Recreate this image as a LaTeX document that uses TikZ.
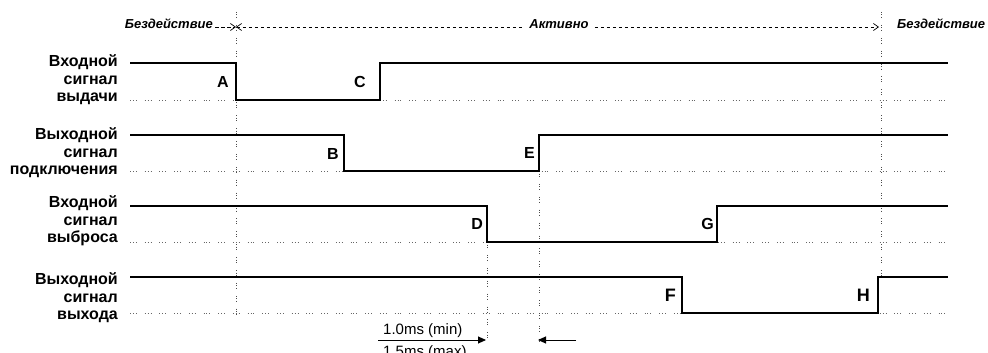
\documentclass[tikz,border=0pt]{standalone}
\usepackage{fontspec}
\setmainfont{Liberation Sans}
\usetikzlibrary{arrows.meta}
\begin{document}
\begin{tikzpicture}[x=1pt,y=-1pt,
  sig/.style={line width=1.9pt, line join=miter},
  base/.style={black!60, line width=0.8pt, dash pattern=on 0.9pt off 2pt on 0.9pt off 2pt on 0.9pt off 8pt},
  vline/.style={black!70, line width=0.8pt, dash pattern=on 0.9pt off 1.6pt on 0.9pt off 1.6pt on 0.9pt off 7pt},
  lbl/.style={font=\fontsize{16}{17.5}\selectfont\bfseries, align=right, anchor=east, inner sep=0pt},
  ltr/.style={font=\fontsize{16}{16}\selectfont\bfseries, inner sep=0pt, anchor=east},
  state/.style={font=\fontsize{13}{14}\selectfont\bfseries\itshape, inner sep=0pt},
  tm/.style={line width=0.7pt, dash pattern=on 3.5pt off 2.5pt},
  meas/.style={font=\fontsize{15}{15}\selectfont, inner sep=0pt}]
\useasboundingbox (0,0) rectangle (988,353);

% dotted baselines
\draw[base] (130,100) -- (948,100);
\draw[base] (130,171) -- (948,171);
\draw[base] (130,242) -- (948,242);
\draw[base] (130,313) -- (948,313);

% vertical dotted markers
\draw[vline] (236,12) -- (236,315);
\draw[vline] (881,12) -- (881,277);
\draw[vline] (487,242) -- (487,342);
\draw[vline] (539,171) -- (539,342);

% signals
\draw[sig] (130,63) -- (236,63) -- (236,100) -- (380,100) -- (380,63) -- (948,63);
\draw[sig] (130,135) -- (344,135) -- (344,171) -- (539,171) -- (539,135) -- (948,135);
\draw[sig] (130,206) -- (487,206) -- (487,242) -- (717,242) -- (717,206) -- (948,206);
\draw[sig] (130,277) -- (682,277) -- (682,313) -- (878,313) -- (878,277) -- (948,277);

% signal labels
\node[lbl] (s1) at (118,80) {Входной\\сигнал\\выдачи};
\node[lbl] (s2) at (118,153) {Выходной\\сигнал\\подключения};
\node[lbl] (s3) at (118,221) {Входной\\сигнал\\выброса};
\node[lbl] (s4) at (118,298) {Выходной\\сигнал\\выхода};

% event letters
\node[ltr] (lA) at (229,82) {A};
\node[ltr] (lC) at (366,82) {C};
\node[ltr] (lB) at (339,154) {B};
\node[ltr] (lE) at (535,153) {E};
\node[ltr] (lD) at (483,224) {D};
\node[ltr] (lG) at (714,224) {G};
\node[ltr, font=\fontsize{18}{18}\selectfont\bfseries] (lF) at (676,295) {F};
\node[ltr, font=\fontsize{18}{18}\selectfont\bfseries] (lH) at (870,295) {H};

% state bar
\node[state, anchor=east] (idleL) at (213,24) {Бездействие};
\node[state] (act) at (559,24) {Активно};
\node[state, anchor=west] (idleR) at (897,24) {Бездействие};
\coordinate (tA) at (236,27);
\coordinate (tH) at (879,27);
\draw[tm, -{Straight Barb[length=5pt,width=7pt]}] ([xshift=2pt]idleL.east |- tA) -- (tA);
\draw[tm, {Straight Barb[length=5pt,width=7pt]}-] (tA) -- ([xshift=-6pt]act.west |- tA);
\draw[tm, -{Straight Barb[length=5pt,width=7pt]}] ([xshift=6pt]act.east |- tA) -- (tH);

% timing measurement
\coordinate (mD) at (486,340);
\coordinate (mD0) at (378,340);
\coordinate (mE) at (538,340);
\coordinate (mE0) at (576,340);
\node[meas, anchor=south west] (tmin) at (383,338) {1.0ms (min)};
\node[meas, anchor=north west] (tmax) at (383,345) {1.5ms (max)};
\draw[line width=0.9pt, -{Triangle[length=8pt,width=7pt]}] (mD0) -- (mD);
\draw[line width=0.9pt, -{Triangle[length=8pt,width=7pt]}] (mE0) -- (mE);
\end{tikzpicture}
\end{document}
